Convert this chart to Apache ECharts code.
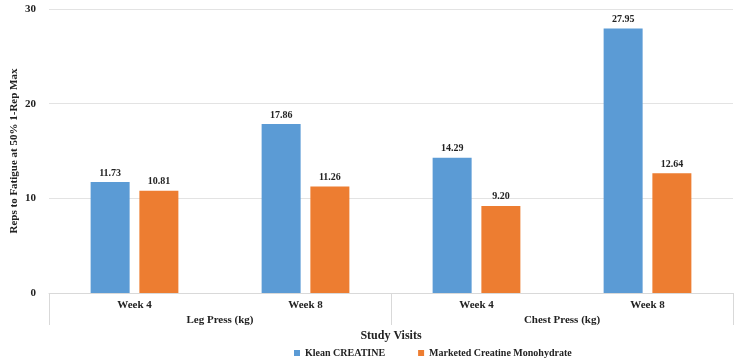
<!DOCTYPE html>
<html>
<head>
<meta charset="utf-8">
<script src="https://cdn.jsdelivr.net/npm/echarts@6/dist/echarts.min.js"></script>
<style>
  html, body { margin: 0; padding: 0; background: #fff; }
  #chart { width: 750px; height: 359px; }
</style>
</head>
<body>
<div id="chart"></div>
<script>
  // week labels (inner axis) and exercise groups (outer axis)
  const weeks = ['Week 4', 'Week 8', 'Week 4', 'Week 8']
  const groups = ['Leg Press (kg)', 'Chest Press (kg)']
  const kleanCreatine = [11.73, 17.86, 14.29, 27.95]
  const marketedMonohydrate = [10.81, 11.26, 9.20, 12.64]

  const font = 'Liberation Serif'
  const chart = echarts.init(document.getElementById('chart'))

  // 2 decimals on top of each bar
  const barLabel = {
    show: true,
    position: 'top',
    distance: 4,
    fontFamily: font,
    fontWeight: 'bold',
    fontSize: 10,
    color: '#222',
    formatter: (p) => p.value.toFixed(2)
  }

  chart.setOption({
    animation: false,
    textStyle: { fontFamily: font },
    color: ['#5B9BD5', '#ED7D31'],
    grid: { left: 49, right: 17, top: 9, bottom: 66, outerBoundsMode: 'none' },
    legend: {
      top: 343,
      left: 289,
      itemWidth: 6,
      itemHeight: 6,
      itemGap: 33,
      icon: 'rect',
      textStyle: { fontFamily: font, fontWeight: 'bold', fontSize: 10, color: '#222' },
      data: ['Klean CREATINE', 'Marketed Creatine Monohydrate']
    },
    xAxis: [
      {
        type: 'category',
        data: weeks,
        position: 'bottom',
        axisLine: { lineStyle: { color: '#d9d9d9' } },
        axisTick: { show: false },
        axisLabel: { margin: 7, fontFamily: font, fontWeight: 'bold', fontSize: 11, color: '#222' }
      },
      {
        type: 'category',
        data: groups,
        position: 'bottom',
        axisLine: { show: false },
        axisTick: { show: true, length: 32, lineStyle: { color: '#d9d9d9' } },
        axisLabel: { margin: 22, fontFamily: font, fontWeight: 'bold', fontSize: 11, color: '#222' },
        name: 'Study Visits',
        nameLocation: 'middle',
        nameGap: 37,
        nameMoveOverlap: false,
        nameTextStyle: { fontFamily: font, fontWeight: 'bold', fontSize: 12, color: '#222' }
      }
    ],
    yAxis: {
      type: 'value',
      min: 0,
      max: 30,
      interval: 10,
      name: 'Reps to Fatigue at 50% 1-Rep Max',
      nameLocation: 'middle',
      nameGap: 29,
      nameMoveOverlap: false,
      nameTextStyle: { fontFamily: font, fontWeight: 'bold', fontSize: 11, color: '#222' },
      axisLine: { show: false },
      axisTick: { show: false },
      axisLabel: { margin: 13, fontFamily: font, fontWeight: 'bold', fontSize: 11, color: '#222' },
      splitLine: { lineStyle: { color: '#e3e3e3' } }
    },
    series: [
      {
        name: 'Klean CREATINE',
        type: 'bar',
        xAxisIndex: 0,
        barWidth: 39,
        barGap: '25%',
        label: barLabel,
        data: kleanCreatine
      },
      {
        name: 'Marketed Creatine Monohydrate',
        type: 'bar',
        xAxisIndex: 0,
        barWidth: 39,
        barGap: '25%',
        label: barLabel,
        data: marketedMonohydrate
      }
    ]
  })
</script>
</body>
</html>
